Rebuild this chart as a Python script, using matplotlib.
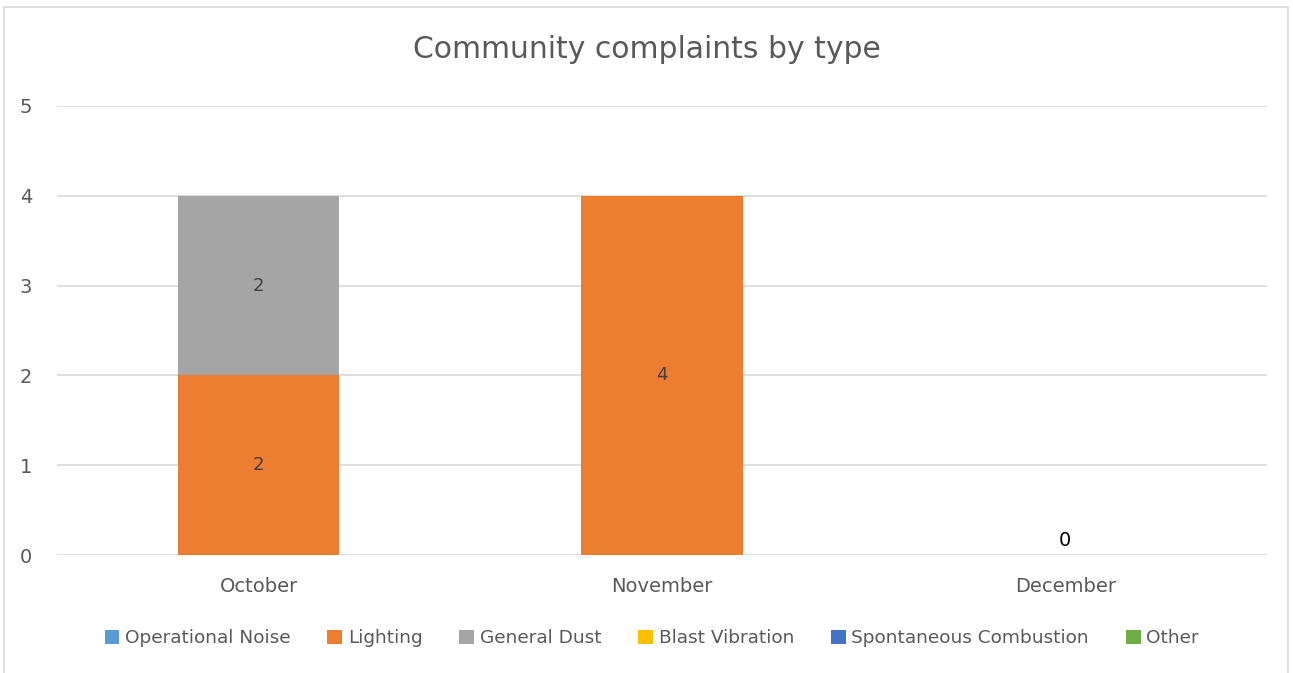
import matplotlib
matplotlib.use('Agg')
import matplotlib.pyplot as plt
from matplotlib.patches import Rectangle
import numpy as np

# 数据
months = ['October', 'November', 'December']
series_names = ['Operational Noise', 'Lighting', 'General Dust', 'Blast Vibration',
                'Spontaneous Combustion', 'Other']
operational_noise = [0, 0, 0]
lighting = [2, 4, 0]
general_dust = [2, 0, 0]
blast_vibration = [0, 0, 0]
spontaneous_combustion = [0, 0, 0]
other = [0, 0, 0]
colors = ['#5b9bd5', '#ed7d31', '#a5a5a5', '#ffc000', '#4472c4', '#70ad47']

fig = plt.figure(figsize=(12.93, 6.73), dpi=100)
ax = fig.add_axes([0.0441, 0.1753, 0.9358, 0.6672])

# 外框
fig.patches.append(Rectangle((4 / 1293, -0.01), 1284 / 1293, 1 - 7 / 673 + 0.01,
                             transform=fig.transFigure, fill=False,
                             edgecolor='#d9d9d9', linewidth=1.2))

x = np.arange(len(months))
bottom = np.zeros(len(months))
all_series = [operational_noise, lighting, general_dust, blast_vibration,
              spontaneous_combustion, other]
for name, vals, c in zip(series_names, all_series, colors):
    vals = np.array(vals, dtype=float)
    ax.bar(x, vals, 0.4, bottom=bottom, color=c, label=name, zorder=3)
    for i, v in enumerate(vals):
        if v > 0:
            ax.text(x[i], bottom[i] + v / 2, f'{int(v)}', ha='center', va='center',
                    fontsize=13, color='#404040', zorder=4)
    bottom += vals

# 总数为零的月份
for i, total in enumerate(bottom):
    if total == 0:
        ax.text(x[i], 0.16, '0', ha='center', va='center', fontsize=14,
                color='black')

ax.set_xlim(-0.5, 2.5)
ax.set_ylim(0, 5)
ax.set_yticks(range(6))
ax.set_xticks(x)
ax.set_xticklabels(months)
ax.grid(axis='y', color='#d9d9d9', linewidth=1.2, zorder=0)
for s in ax.spines.values():
    s.set_visible(False)
ax.tick_params(axis='both', length=0, labelsize=14, colors='#595959')
ax.tick_params(axis='x', pad=16)
ax.tick_params(axis='y', pad=18)

fig.text(0.5, 1 - 50 / 673, 'Community complaints by type', ha='center', va='center',
         fontsize=21.5, color='#595959')

fig.legend(loc='center', bbox_to_anchor=(0.504, 1 - 638 / 673), ncol=6, frameon=False,
           fontsize=13.3, handlelength=0.8, handleheight=0.8, handletextpad=0.3,
           columnspacing=2.0, labelcolor='#595959')

fig.savefig('out.png', dpi=100)
